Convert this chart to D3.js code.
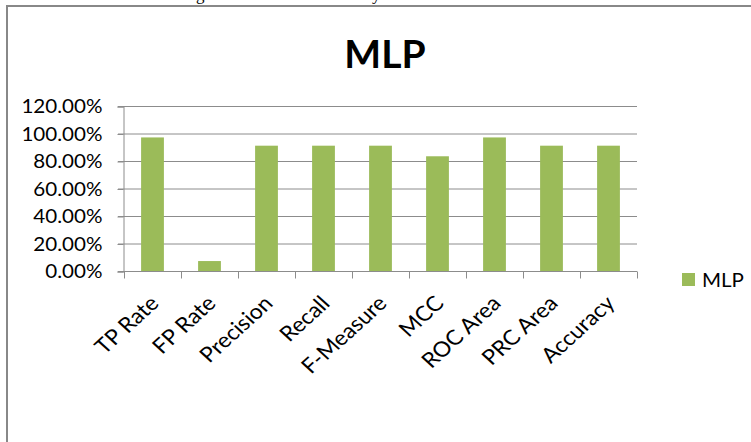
<!DOCTYPE html>
<html>
<head>
<meta charset="utf-8">
<script src="https://cdn.jsdelivr.net/npm/d3@7"></script>
<style>
  html, body { margin: 0; padding: 0; background: #fff; }
  svg { display: block; }
  text { font-family: Lato, "Open Sans", sans-serif; fill: #000; }
</style>
</head>
<body>
<svg id="chart" width="751" height="442"></svg>
<script>
const categories = ["TP Rate", "FP Rate", "Precision", "Recall", "F-Measure", "MCC", "ROC Area", "PRC Area", "Accuracy"];
const mlpValues = [0.975, 0.076, 0.915, 0.915, 0.915, 0.838, 0.975, 0.915, 0.915];
const yTicks = [0, 0.2, 0.4, 0.6, 0.8, 1.0, 1.2];
const seriesName = "MLP";
const titleText = "MLP";

const W = 751, H = 442;
const svg = d3.select("#chart");
const barColor = "#9BBB59";
const gridColor = "#8c8c8c";
const stretch = 1.03;

// cut-off caption descenders above the chart frame
svg.append("text").attr("x", 196).attr("y", 0).style("font-family", "'Liberation Serif', serif").style("font-size", "17px").text("g");
svg.append("text").attr("x", 372).attr("y", 0).style("font-family", "'Liberation Serif', serif").style("font-size", "17px").text("y");

// chart frame
svg.append("rect").attr("x", 7).attr("y", 6).attr("width", W + 20).attr("height", H + 20)
  .attr("fill", "none").attr("stroke", "#888").attr("stroke-width", 2);

const plot = { left: 124, right: 637, top: 106.5, bottom: 271.5 };

const x = d3.scaleBand().domain(categories).range([plot.left, plot.right]).paddingInner(0.6).paddingOuter(0.3);
const y = d3.scaleLinear().domain([0, 1.2]).range([plot.bottom, plot.top]);

// gridlines
svg.append("g").selectAll("line").data(yTicks).join("line")
  .attr("x1", plot.left - 6).attr("x2", plot.right)
  .attr("y1", d => y(d)).attr("y2", d => y(d))
  .attr("stroke", gridColor).attr("stroke-width", 1);

// y axis
const yAxis = svg.append("g").attr("transform", `translate(${plot.left - 0.5},0)`)
  .call(d3.axisLeft(y).tickValues(yTicks).tickFormat(d3.format(".2%")).tickSize(6).tickPadding(15));
yAxis.selectAll("path, line").attr("stroke", gridColor);
yAxis.selectAll(".tick text")
  .style("font-size", "20px").style("font-family", "Lato, sans-serif").attr("fill", "#000")
  .attr("x", -21 / stretch)
  .attr("transform", `scale(${stretch},1)`);

// bars
svg.append("g").selectAll("rect").data(mlpValues).join("rect")
  .attr("x", (d, i) => x(categories[i]))
  .attr("width", x.bandwidth())
  .attr("y", d => y(d))
  .attr("height", d => y(0) - y(d))
  .attr("fill", barColor);

// x axis line and boundary ticks
const step = x.step();
const x0 = plot.left;
const xAxisG = svg.append("g");
xAxisG.append("line").attr("x1", plot.left).attr("x2", plot.right).attr("y1", y(0)).attr("y2", y(0)).attr("stroke", gridColor);
xAxisG.selectAll("line.tk").data(d3.range(categories.length + 1)).join("line").attr("class", "tk")
  .attr("x1", i => Math.round(x0 + i * step) + 0.5).attr("x2", i => Math.round(x0 + i * step) + 0.5)
  .attr("y1", y(0)).attr("y2", y(0) + 7).attr("stroke", gridColor);

// category labels
xAxisG.selectAll("text").data(categories).join("text")
  .attr("transform", d => `translate(${x(d) + x.bandwidth() / 2 + 2},${y(0) + 28}) scale(1.1,1) rotate(-45)`)
  .attr("text-anchor", "end")
  .attr("dy", "0.35em")
  .style("font-size", "21px")
  .text(d => d);

// title
svg.append("text").attr("x", 385).attr("y", 68).attr("text-anchor", "middle")
  .style("font-size", "39px").style("font-weight", "bold").text(titleText);

// legend
const lg = svg.append("g").attr("transform", "translate(682,273)");
lg.append("rect").attr("width", 13).attr("height", 13).attr("fill", barColor);
lg.append("text").attr("x", 20 / 1.08).attr("y", 13.5).attr("transform", "scale(1.08,1)").style("font-size", "19px").text(seriesName);
</script>
</body>
</html>
